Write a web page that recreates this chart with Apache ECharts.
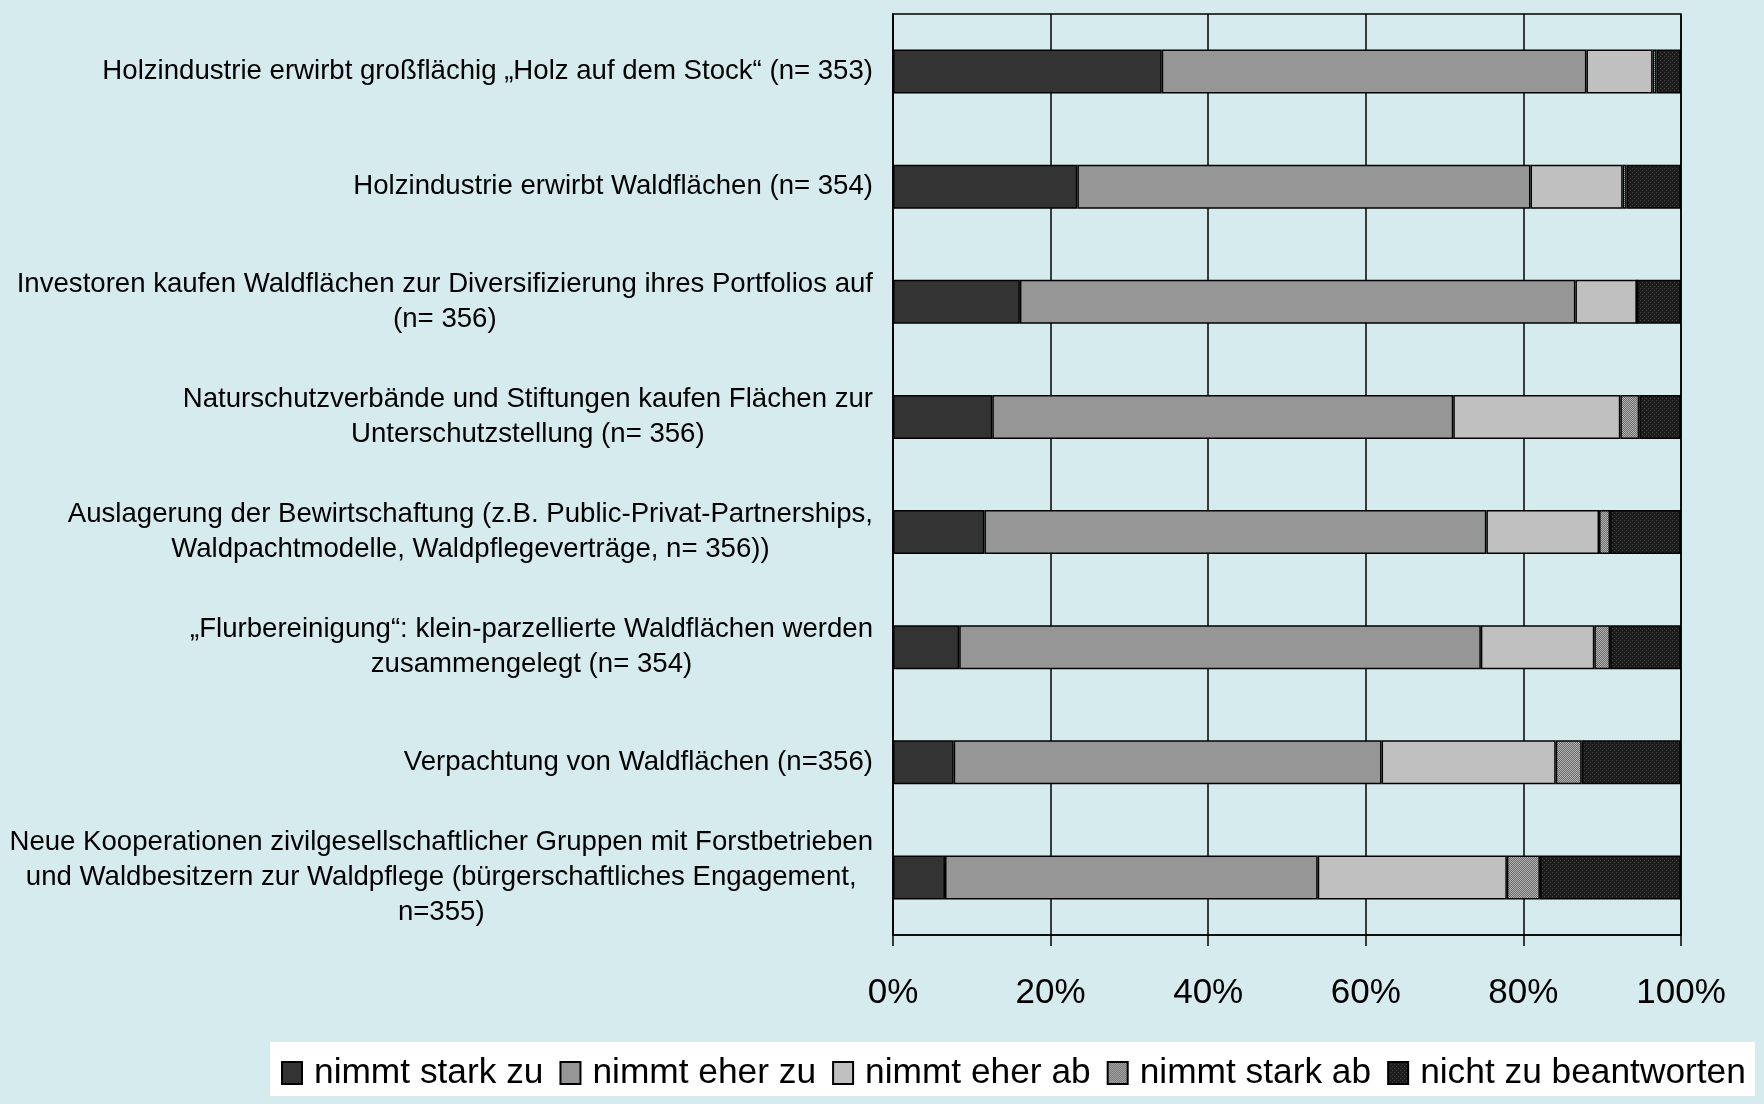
<!DOCTYPE html>
<html>
<head>
<meta charset="utf-8">
<script src="https://cdn.jsdelivr.net/npm/echarts@6/dist/echarts.min.js"></script>
<style>
  html, body { margin: 0; padding: 0; background: #d6ebee; }
  #chart { width: 1764px; height: 1104px; }
</style>
</head>
<body>
<div id="chart"></div>
<script>
// categories (top to bottom)
const categories = [
  'Holzindustrie erwirbt großflächig „Holz auf dem Stock“ (n= 353)',
  'Holzindustrie erwirbt Waldflächen (n= 354)',
  'Investoren kaufen Waldflächen zur Diversifizierung ihres Portfolios auf\n(n= 356)',
  'Naturschutzverbände und Stiftungen kaufen Flächen zur\nUnterschutzstellung (n= 356)',
  'Auslagerung der Bewirtschaftung (z.B. Public-Privat-Partnerships,\nWaldpachtmodelle, Waldpflegeverträge, n= 356))',
  '„Flurbereinigung“: klein-parzellierte Waldflächen werden\nzusammengelegt (n= 354)',
  'Verpachtung von Waldflächen (n=356)',
  'Neue Kooperationen zivilgesellschaftlicher Gruppen mit Forstbetrieben\nund Waldbesitzern zur Waldpflege (bürgerschaftliches Engagement,\nn=355)'
];

const seriesNames = ['nimmt stark zu', 'nimmt eher zu', 'nimmt eher ab', 'nimmt stark ab', 'nicht zu beantworten'];

// shares in percent
const starkZu = [34.1, 23.4, 16.1, 12.6, 11.6, 8.4, 7.7, 6.6];
const eherZu = [53.9, 57.5, 70.5, 58.5, 63.7, 66.2, 54.3, 47.3];
const eherAb = [8.4, 11.7, 7.8, 21.2, 14.3, 14.4, 22.1, 24.0];
const starkAb = [0.5, 0.5, 0.0, 2.4, 1.4, 2.0, 3.3, 4.2];
const nichtZu = [3.1, 6.9, 5.6, 5.3, 9.0, 9.0, 12.6, 17.9];

const tickLabels = ['0%', '20%', '40%', '60%', '80%', '100%'];

// small pixel patterns like the office fills
function makePattern(bg, fg, cells) {
  const c = document.createElement('canvas');
  c.width = 4;
  c.height = 4;
  const ctx = c.getContext('2d');
  ctx.fillStyle = bg;
  ctx.fillRect(0, 0, 4, 4);
  ctx.fillStyle = fg;
  cells.forEach(function (p) { ctx.fillRect(p[0], p[1], 1, 1); });
  return { image: c, repeat: 'repeat' };
}

const hatch = makePattern('#6a6a6a', '#b4b4b4', [[0, 0], [1, 1], [2, 2], [3, 3], [2, 0], [3, 1], [0, 2], [1, 3]]);
const dots = makePattern('#1c1c1c', '#474747', [[0, 0], [2, 2]]);

const colors = ['#333333', '#969696', '#c0c0c0', hatch, dots];
const values = [starkZu, eherZu, eherAb, starkAb, nichtZu];

const chart = echarts.init(document.getElementById('chart'));

const series = seriesNames.map(function (name, i) {
  return {
    name: name,
    type: 'bar',
    stack: 'total',
    barWidth: 44,
    itemStyle: {
      color: colors[i],
      borderColor: '#000',
      borderWidth: 1.5
    },
    data: values[i]
  };
});

chart.setOption({
  backgroundColor: '#d6ebee',
  animation: false,
  textStyle: { fontFamily: 'Liberation Sans, Arial, sans-serif', color: '#000' },
  grid: {
    left: 893,
    right: 83,
    top: 14,
    bottom: 169,
    show: true,
    borderColor: '#000',
    borderWidth: 1.5,
    backgroundColor: 'transparent'
  },
  legend: {
    data: seriesNames,
    left: 270,
    top: 1042,
    orient: 'horizontal',
    backgroundColor: '#fff',
    padding: [13, 9, 5, 11],
    itemWidth: 20,
    itemHeight: 22,
    itemGap: 16,
    icon: 'rect',
    textStyle: {
      fontSize: 35.3,
      color: '#000',
      lineHeight: 36,
      padding: [0, 0, 0, 7]
    }
  },
  xAxis: {
    type: 'value',
    min: 0,
    max: 100,
    interval: 20,
    axisLine: { show: true, lineStyle: { color: '#000', width: 1.5 } },
    axisTick: { show: true, length: 11, lineStyle: { color: '#000', width: 1.5 } },
    splitLine: { show: true, lineStyle: { color: '#000', width: 1.5 } },
    axisLabel: {
      margin: 41,
      fontSize: 35,
      color: '#000',
      formatter: function (v) { return tickLabels[Math.round(v / 20)]; }
    }
  },
  yAxis: {
    type: 'category',
    inverse: true,
    data: categories,
    axisLine: { show: true, lineStyle: { color: '#000', width: 1.5 } },
    axisTick: { show: false },
    axisLabel: {
      margin: 20,
      align: 'right',
      formatter: function (v) {
        return v.split('\n').map(function (l) { return '{c|' + l + '}'; }).join('\n');
      },
      rich: {
        c: { align: 'center', fontSize: 27.6, lineHeight: 35, color: '#000' }
      }
    }
  },
  series: series
});

window.addEventListener('resize', function () {
  chart.resize();
});
</script>
</body>
</html>
